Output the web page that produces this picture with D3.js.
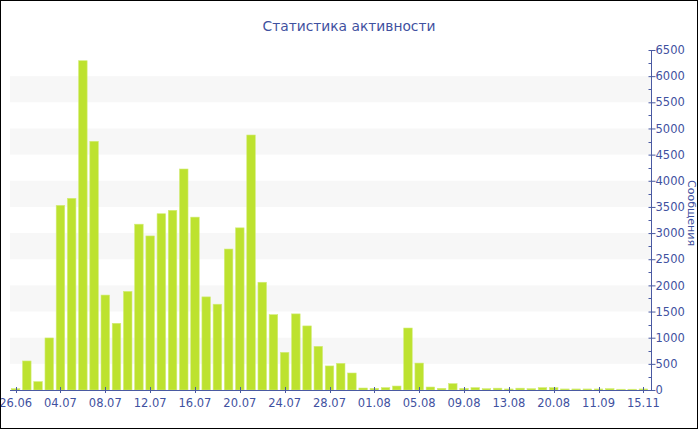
<!DOCTYPE html>
<html><head><meta charset="utf-8">
<script src="https://cdn.jsdelivr.net/npm/d3@7"></script>
<style>html,body{margin:0;padding:0;background:#fff;}svg{display:block;font-family:"DejaVu Sans",Verdana,sans-serif;}</style>
</head><body>
<script>
const dates = ["26.06","01.07","02.07","03.07","04.07","05.07","06.07","07.07","08.07","09.07","10.07","11.07","12.07","13.07","14.07","15.07","16.07","17.07","18.07","19.07","20.07","21.07","22.07","23.07","24.07","25.07","26.07","27.07","28.07","29.07","30.07","31.07","01.08","02.08","03.08","04.08","05.08","06.08","07.08","08.08","09.08","10.08","11.08","12.08","13.08","14.08","16.08","18.08","20.08","23.08","28.08","02.09","11.09","20.09","05.10","21.10","15.11"];
const messages = [25,555,160,995,3530,3665,6295,4755,1815,1275,1885,3170,2945,3370,3435,4225,3305,1780,1640,2695,3100,4875,2060,1440,720,1455,1225,835,460,510,325,38,32,45,76,1185,515,57,32,121,30,45,25,35,20,35,25,45,45,20,20,20,20,25,15,15,20];
const yTicks = [0,500,1000,1500,2000,2500,3000,3500,4000,4500,5000,5500,6000,6500];
const bands = [[500,1000],[1500,2000],[2500,3000],[3500,4000],[4500,5000],[5500,6000]];
const title = "Статистика активности";
const yLabel = "Сообщения";

(function () {
const W = 700, H = 430;
const pLeft = 10, pRight = 651, pTop = 50, pBottom = 390;
const axisColor = "#4a5aa2", textColor = "#3f51a0";

const svg = d3.select("body").append("svg").attr("width", W).attr("height", H);

const x = d3.scaleBand().domain(dates).range([pLeft, pRight - 2]).paddingInner(0.24).paddingOuter(0.12);
const y = d3.scaleLinear().domain([0, 6500]).range([pBottom, pTop]);

// bands
svg.append("g").selectAll("rect").data(bands).join("rect")
  .attr("x", pLeft).attr("width", pRight - pLeft)
  .attr("y", d => y(d[1])).attr("height", d => y(d[0]) - y(d[1]))
  .attr("fill", "#f7f7f7");

// bars
svg.append("g").selectAll("rect").data(messages).join("rect")
  .attr("x", (d, i) => x(dates[i]))
  .attr("width", x.bandwidth())
  .attr("y", d => y(d))
  .attr("height", d => pBottom - y(d))
  .attr("fill", "#bde22f")
  .attr("stroke", "#d2ec78").attr("stroke-width", 0.6);

// x axis
const xg = svg.append("g");
xg.append("line").attr("x1", pLeft).attr("x2", pRight).attr("y1", pBottom + 0.5).attr("y2", pBottom + 0.5)
  .attr("stroke", axisColor).attr("stroke-width", 1);
const labelled = dates.filter((d, i) => i % 4 === 0);
xg.selectAll("line.t").data(labelled).join("line").attr("class", "t")
  .attr("x1", d => Math.round(x(d) + x.bandwidth() / 2) + 0.5)
  .attr("x2", d => Math.round(x(d) + x.bandwidth() / 2) + 0.5)
  .attr("y1", pBottom - 3).attr("y2", pBottom + 3)
  .attr("stroke", axisColor).attr("stroke-width", 1);
xg.selectAll("text").data(labelled).join("text")
  .attr("x", d => x(d) + x.bandwidth() / 2)
  .attr("y", pBottom + 17)
  .attr("text-anchor", "middle")
  .attr("font-size", "11.5px").attr("fill", textColor)
  .text(d => d);

// y axis (right)
const yAxis = d3.axisRight(y).tickValues(yTicks).tickSize(4).tickPadding(0).tickFormat(d3.format("d"));
const yg = svg.append("g").attr("transform", `translate(${pRight + 0.5},0)`).call(yAxis);
yg.attr("font-family", null).attr("font-size", null);
yg.select(".domain").attr("stroke", axisColor).attr("d", `M0,${pTop}V${pBottom}`);
yg.selectAll(".tick line").attr("stroke", axisColor).attr("x1", -3);
yg.selectAll(".tick text").attr("fill", textColor).attr("font-size", "11.5px");
const minor = d3.range(250, 6500, 500);
yg.selectAll("line.minor").data(minor).join("line").attr("class", "minor")
  .attr("x1", -3).attr("x2", 0)
  .attr("y1", d => Math.round(y(d)) + 0.5).attr("y2", d => Math.round(y(d)) + 0.5)
  .attr("stroke", axisColor);

// y label
svg.append("text")
  .attr("transform", `translate(688,213) rotate(90)`)
  .attr("text-anchor", "middle")
  .attr("font-size", "11px").attr("fill", textColor)
  .text(yLabel);

// title
svg.append("text").attr("x", 349).attr("y", 31).attr("text-anchor", "middle")
  .attr("font-size", "13.8px").attr("fill", textColor).text(title);

// border
svg.append("rect").attr("x", 0.5).attr("y", 0.5).attr("width", 697).attr("height", 428)
  .attr("fill", "none").attr("stroke", "#000").attr("stroke-width", 1);
})();
</script>
</body></html>
